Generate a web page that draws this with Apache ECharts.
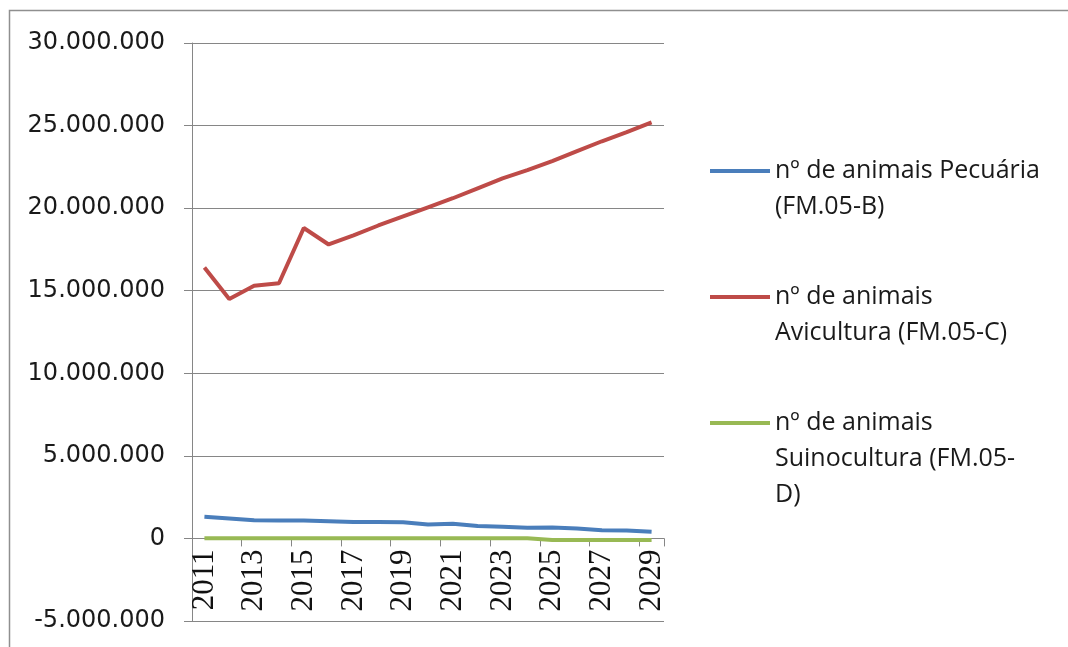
<!DOCTYPE html>
<html>
<head>
<meta charset="utf-8">
<script src="https://cdn.jsdelivr.net/npm/echarts@6/dist/echarts.min.js"></script>
<style>
  html, body { margin: 0; padding: 0; background: #fff; }
  #main { width: 1068px; height: 647px; }
</style>
</head>
<body>
<div id="main"></div>
<script>
var years = ['2011', '2012', '2013', '2014', '2015', '2016', '2017', '2018', '2019', '2020',
  '2021', '2022', '2023', '2024', '2025', '2026', '2027', '2028', '2029'];

var pecuaria = [1310000, 1210000, 1100000, 1090000, 1090000, 1040000, 990000, 990000, 980000, 850000,
  890000, 750000, 710000, 650000, 660000, 600000, 500000, 480000, 400000];

var avicultura = [16400000, 14500000, 15300000, 15450000, 18800000, 17800000, 18350000, 18950000, 19500000, 20050000,
  20600000, 21200000, 21800000, 22300000, 22850000, 23450000, 24050000, 24600000, 25200000];

var suinocultura = [15000, 15000, 15000, 15000, 15000, 15000, 15000, 15000, 15000, 15000,
  15000, 15000, 15000, 10000, -90000, -90000, -95000, -95000, -95000];

var seriesNames = ['nº de animais Pecuária (FM.05-B)', 'nº de animais Avicultura (FM.05-C)', 'nº de animais Suinocultura (FM.05-D)'];
var legendLines = [
  ['nº de animais Pecuária', '(FM.05-B)'],
  ['nº de animais', 'Avicultura (FM.05-C)'],
  ['nº de animais', 'Suinocultura (FM.05-', 'D)']
];

var yMin = -5000000, yMax = 30000000, yStep = 5000000;

var chart = echarts.init(document.getElementById('main'), null, { renderer: 'canvas' });

function fmt(v) {
  return String(v).replace(/\B(?=(\d{3})+(?!\d))/g, '.');
}

// icon sits at the middle of the text block, so pad with empty lines to line it up with line 1
function legendText(i) {
  var lines = legendLines[i];
  var pad = [];
  for (var k = 1; k < lines.length; k++) pad.push('');
  return pad.concat(lines).join('\n');
}

var legendTops = [117, 243, 333];
var legends = seriesNames.map(function (name, i) {
  return {
    data: [name],
    orient: 'vertical',
    left: 710,
    top: legendTops[i],
    padding: 0,
    icon: 'rect',
    itemWidth: 60,
    itemHeight: 4,
    formatter: function () { return legendText(i); },
    textStyle: {
      fontFamily: 'Open Sans',
      fontSize: 25,
      lineHeight: 36,
      color: '#1a1a1a'
    }
  };
});

var gridTop = 43, gridBottom = 26;
var plotHeight = 647 - gridTop - gridBottom;
// eixo das categorias fica no zero, não no fundo
var zeroOffset = -plotHeight * (0 - yMin) / (yMax - yMin);

var lineColors = ['#4A7EBB', '#BE4B48', '#98B954'];
var seriesData = [pecuaria, avicultura, suinocultura];

var option = {
  backgroundColor: '#ffffff',
  animation: false,
  color: lineColors,
  graphic: [{ // moldura do gráfico
    type: 'rect',
    shape: { x: 9.5, y: 10.5, width: 1100, height: 700 },
    style: { fill: 'none', stroke: '#8f8f8f', lineWidth: 1.5 },
    silent: true
  }],
  legend: legends,
  grid: {
    left: 192,
    right: 404,
    top: gridTop,
    bottom: gridBottom,
    containLabel: false,
    outerBoundsMode: 'none'
  },
  xAxis: {
    type: 'category',
    data: years,
    boundaryGap: true,
    position: 'bottom',
    offset: zeroOffset,
    axisLine: { onZero: false, lineStyle: { color: '#868686', width: 1 } },
    axisTick: { show: true, interval: 1, length: 8, lineStyle: { color: '#868686' } },
    axisLabel: {
      interval: 1,
      rotate: 90,
      margin: 11,
      fontFamily: 'Liberation Serif',
      fontSize: 31,
      color: '#111'
    },
    splitLine: { show: false }
  },
  yAxis: {
    type: 'value',
    min: yMin,
    max: yMax,
    interval: yStep,
    axisLine: { show: true, lineStyle: { color: '#868686', width: 1 } },
    axisTick: { show: true, length: 8, lineStyle: { color: '#868686' } },
    axisLabel: {
      margin: 27,
      formatter: fmt,
      fontFamily: 'DejaVu Sans',
      fontSize: 24,
      color: '#1a1a1a'
    },
    splitLine: { lineStyle: { color: '#868686', width: 1 } }
  },
  series: seriesNames.map(function (name, i) {
    return {
      name: name,
      type: 'line',
      data: seriesData[i],
      symbol: 'none',
      lineStyle: { width: 4, color: lineColors[i] }
    };
  })
};

chart.setOption(option);
</script>
</body>
</html>
